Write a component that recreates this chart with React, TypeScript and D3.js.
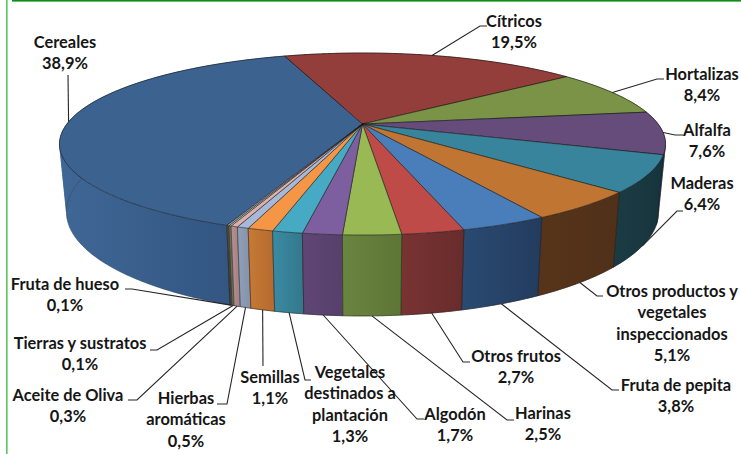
import React from 'react';
import * as d3 from 'd3';

// Data, in drawing order (clockwise)
const categories = [
  'Cereales', 'Cítricos', 'Hortalizas', 'Alfalfa', 'Maderas',
  'Otros productos y vegetales inspeccionados', 'Fruta de pepita', 'Otros frutos', 'Harinas', 'Algodón',
  'Vegetales destinados a plantación', 'Semillas', 'Hierbas aromáticas', 'Aceite de Oliva',
  'Tierras y sustratos', 'Fruta de hueso',
];
const shares = [38.9, 19.5, 8.4, 7.6, 6.4, 5.1, 3.8, 2.7, 2.5, 1.7, 1.3, 1.1, 0.5, 0.3, 0.1, 0.1];

const topColors = [
  '#3c638f', '#933e3b', '#7a9346', '#654c7b', '#37849c', '#c07632', '#4a7ebb', '#be4b48',
  '#98b954', '#7d5fa0', '#46aac4', '#f49645', '#a7b9d8', '#dcb0ae', '#c3d69b', '#b3a2c7',
];
const sideLeft = [
  '#3f6796', '#70302e', '#6b853c', '#3a3f52', '#1b3b44', '#573419', '#2a4a72', '#783332',
  '#6a8540', '#5f4675', '#3a8ba3', '#c67a35', '#919fb9', '#b59291', '#77805a', '#555555',
];
const sideRight = [
  '#2f507c', '#70302e', '#5e7534', '#3a3f52', '#16343c', '#50301a', '#233c5e', '#682c2c',
  '#5d7535', '#57406c', '#34788c', '#b56c2e', '#8695ae', '#a88584', '#6b7350', '#444444',
];

// Text layout: [centre x, first baseline, ...lines]
const labelLines = [
  ['Cereales', '38,9%'], ['Cítricos', '19,5%'], ['Hortalizas', '8,4%'], ['Alfalfa', '7,6%'], ['Maderas', '6,4%'],
  ['Otros productos y', 'vegetales', 'inspeccionados', '5,1%'], ['Fruta de pepita', '3,8%'], ['Otros frutos', '2,7%'],
  ['Harinas', '2,5%'], ['Algodón', '1,7%'], ['Vegetales', 'destinados a', 'plantación', '1,3%'], ['Semillas', '1,1%'],
  ['Hierbas', 'aromáticas', '0,5%'], ['Aceite de Oliva', '0,3%'], ['Tierras y sustratos', '0,1%'], ['Fruta de hueso', '0,1%'],
];
const labelX = [65, 514, 702, 707, 702, 672, 676, 516, 543, 455, 350, 270, 186, 68, 80, 65];
const labelY = [48, 27, 80, 135.5, 189, 297, 391, 362, 419, 420, 378, 383, 404, 401, 349, 290];

// Leader bends, the first point comes from the slice itself
const leaderBends: number[][][] = [
  [[68, 75]], [[480, 26], [487, 26]], [[657, 79], [664, 79]], [[675, 135], [683, 135]], [[677, 211], [683, 211]],
  [[597, 296], [603, 296]], [[612, 390], [619, 390]], [[463, 362], [470, 362]], [[507, 420], [514, 420]],
  [[417, 419], [424, 419]], [[305, 380], [311, 380]], [[263, 366]], [[227, 404], [217, 404]],
  [[137, 400], [128, 400]], [[157, 350], [150, 350]], [[132, 289], [125, 289]],
];
const leaderOnLower = [false, false, false, false, true, true, true, true, true, true, true, true, true, true, true, true];

const width = 741;
const height = 454;
const startAngle = (-158.6 * Math.PI) / 180;
const persp = 0.22; // perspective of the disc

// project an angle on the tilted disc, circle -> ellipse with the apex shifted backwards
const makeRim = (cx: number, cy: number, ax: number, by: number) => (a: number, r = 1): [number, number] => {
  const u = Math.sin(a) * r;
  const v = Math.cos(a) * r;
  const w = 1 + persp * v;
  return [cx + (ax * u) / w, cy - (by * v) / w];
};
const topRim = makeRim(362.5, 124, 295.6, 86.6);
const lowRim = makeRim(362.5, 189, 288.8, 99);

// the wall folds where the rim turns back horizontally, left and right of the disc
const foldAngle = Math.acos(-persp);
const folds = [-foldAngle, foldAngle, 2 * Math.PI - foldAngle];

const App = () => {
  const pie = d3.pie<number>().sort(null).startAngle(startAngle).endAngle(startAngle + 2 * Math.PI);
  const arcs = pie(shares);
  const line = d3.line();

  const samples = (a0: number, a1: number, step = 0.01) => {
    const n = Math.max(2, Math.ceil((a1 - a0) / step));
    return d3.range(n + 1).map((i) => a0 + ((a1 - a0) * i) / n);
  };

  // back slices first so the front walls sit on top
  const sideOrder = d3.range(arcs.length).sort((a, b) => {
    const mid = (i: number) => Math.cos((arcs[i].startAngle + arcs[i].endAngle) / 2);
    return mid(b) - mid(a);
  });

  const fontFamily = 'Lato, Carlito, sans-serif';

  return (
    <svg width={width} height={height} style={{ position: 'absolute', left: 0, top: 0, display: 'block' }}>
      <defs>
        {arcs.map((d, i) => {
          const xs = samples(d.startAngle, d.endAngle).map((a) => topRim(a)[0]);
          return (
            <linearGradient key={i} id={`side-${i}`} gradientUnits="userSpaceOnUse"
              x1={d3.min(xs)} x2={d3.max(xs)} y1={0} y2={0}>
              <stop offset="0%" stopColor={sideLeft[i]} />
              <stop offset="100%" stopColor={sideRight[i]} />
            </linearGradient>
          );
        })}
      </defs>

      <rect x={6} y={0} width={1.6} height={height} fill="#5cc45c" />
      <rect x={12} y={0} width={width - 12} height={1.6} fill="#0b8f17" />

      {/* walls, one polygon per unfolded stretch of the slice */}
      {sideOrder.map((i) => {
        const d = arcs[i];
        const breaks = [d.startAngle, ...folds.filter((f) => f > d.startAngle && f < d.endAngle), d.endAngle];
        return (
          <g key={i}>
            {d3.pairs(breaks).map(([a0, a1], j) => {
              const pts = samples(a0, a1);
              const outline = [...pts.map((a) => topRim(a)), ...pts.slice().reverse().map((a) => lowRim(a))];
              return (
                <path key={j} d={line(outline) + 'Z'} fill={`url(#side-${i})`}
                  stroke={`url(#side-${i})`} strokeWidth={0.6} />
              );
            })}
            <path d={line(samples(d.startAngle, d.endAngle).map((a) => lowRim(a))) ?? ''} fill="none"
              stroke="#1c1c1c" strokeOpacity={i === 0 ? 0.3 : 0.75} strokeWidth={0.7} />
            {[d.startAngle, d.endAngle].map((a, j) => (
              <path key={j} d={line([topRim(a), lowRim(a)]) ?? ''} fill="none"
                stroke="#1c1c1c" strokeOpacity={0.75} strokeWidth={0.7} />
            ))}
          </g>
        );
      })}

      {/* top faces */}
      {arcs.map((d, i) => {
        const pts = samples(d.startAngle, d.endAngle).map((a) => topRim(a));
        return (
          <path key={i} d={line([topRim(0, 0), ...pts]) + 'Z'} fill={topColors[i]}
            stroke="#1a1a1a" strokeOpacity={0.85} strokeWidth={0.7} strokeLinejoin="round" />
        );
      })}

      {/* leader lines */}
      {arcs.map((d, i) => {
        const mid = (d.startAngle + d.endAngle) / 2;
        const from = leaderOnLower[i] ? lowRim(mid) : topRim(mid);
        return (
          <path key={i} d={line([from, ...(leaderBends[i] as [number, number][])]) ?? ''}
            fill="none" stroke="#262626" strokeWidth={1.1} />
        );
      })}

      {/* labels */}
      {categories.map((c, i) => (
        <text key={c} x={labelX[i]} y={labelY[i]} textAnchor="middle"
          fontFamily={fontFamily} fontWeight={700} fontSize={16.4} fill="#161616">
          {labelLines[i].map((t, j) => (
            <tspan key={j} x={labelX[i]} dy={j === 0 ? 0 : 21.4}>{t}</tspan>
          ))}
        </text>
      ))}
    </svg>
  );
};

export default App;
